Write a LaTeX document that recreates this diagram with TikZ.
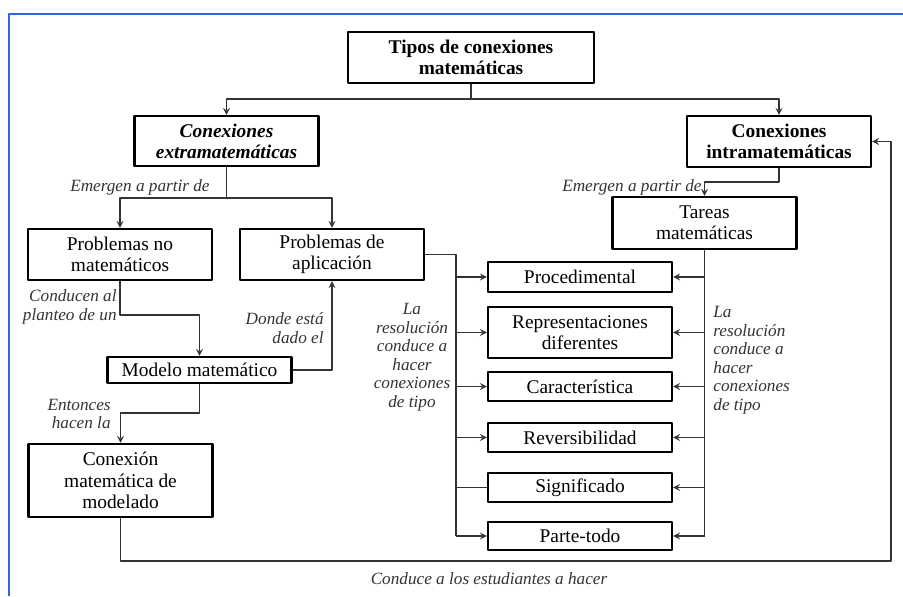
\documentclass[tikz,border=0pt]{standalone}
\usepackage{fontspec}
\setmainfont{Liberation Serif}
\definecolor{marco}{RGB}{43,104,222}
\begin{document}
\begin{tikzpicture}[x=0.5pt,y=-0.5pt,>=stealth, line join=round]
	\tikzset{caja/.style={draw, line width=1.1pt, align=center, inner sep=0pt, minimum width=92pt, font=\fontsize{9.7}{10.6}\selectfont},
		negr/.style={font=\fontsize{9.7}{10.6}\selectfont\bfseries},
		negrit/.style={font=\fontsize{9.7}{10.6}\selectfont\bfseries\itshape},
		etiq/.style={inner sep=0pt, text=black!80, font=\fontsize{8.6}{9.25}\selectfont\itshape},
		linea/.style={draw=black!80, line width=0.55pt},
		flecha/.style={linea, ->}}
	\useasboundingbox (0,0) rectangle (903,596);
	\draw[marco, line width=1.1pt] (9,596) -- (9,14) -- (903,14);
	% cajas
	\node[caja, negr, minimum width=123pt, minimum height=25.5pt] (tipos) at (471,57.5) {Tipos de conexiones\\matemáticas};
	\node[caja, negrit, minimum height=25pt] (extra) at (226.5,141) {Conexiones\\extramatemáticas};
	\node[caja, negr, minimum height=25.5pt] (intra) at (779,141.5) {Conexiones\\intramatemáticas};
	\node[caja, minimum height=25.5pt] (probno) at (120,254.5) {Problemas no\\matemáticos};
	\node[caja, minimum height=25.5pt] (probap) at (332,254.5) {Problemas de\\aplicación};
	\node[caja, minimum height=26pt] (tareas) at (704.5,223) {Tareas\\matemáticas};
	\node[caja, minimum height=13pt] (modelo) at (199.5,370) {Modelo matemático};
	\node[caja, minimum height=36.5pt, font=\fontsize{9.7}{10.9}\selectfont] (conex) at (120.5,480.5) {Conexión\\matemática de\\modelado};
	\node[caja, minimum height=15pt] (proc) at (580,277) {Procedimental};
	\node[caja, minimum height=25.5pt] (repr) at (580,332.5) {Representaciones\\diferentes};
	\node[caja, minimum height=14.5pt] (carac) at (580,386.5) {Característica};
	\node[caja, minimum height=14.5pt] (rever) at (580,437.5) {Reversibilidad};
	\node[caja, minimum height=14.5pt] (signif) at (580,487.5) {Significado};
	\node[caja, minimum height=14pt] (parte) at (580,536) {Parte-todo};
	% conectores
	\coordinate (t1) at (471,99);
	\draw[linea] (tipos.south) -- (t1);
	\draw[flecha] (t1) -| (extra.north);
	\draw[flecha] (t1) -| (intra.north);
	\coordinate (e1) at (226.5,198);
	\draw[linea] (extra.south) -- (e1);
	\draw[flecha] (e1) -| (probno.north);
	\draw[flecha] (e1) -| (probap.north);
	\coordinate (i1) at (779,182);
	\draw[flecha] (intra.south) -- (i1) -| (tareas.north);
	\draw[linea] (tareas.south) -- (tareas.south |- parte.east);
	\foreach \n in {proc,repr,carac,rever,signif,parte}
		\draw[flecha] (tareas.south |- \n.east) -- (\n.east);
	\coordinate (l0) at (456,254.5);
	\draw[linea] (probap.east) -- (l0) -- (l0 |- parte.west);
	\foreach \n in {proc,repr,carac,rever,parte}
		\draw[flecha] (l0 |- \n.west) -- (\n.west);
	\draw[linea] (l0 |- signif.west) -- (signif.west);
	\coordinate (p1) at (120,315);
	\draw[flecha] (probno.south) -- (p1) -| (modelo.north);
	\draw[flecha] (modelo.east) -| (probap.south);
	\coordinate (m1) at (199.5,413);
	\draw[flecha] (modelo.south) -- (m1) -| (conex.north);
	\coordinate (c1) at (120.5,561);
	\coordinate (c2) at (891,561);
	\draw[flecha] (conex.south) -- (c1) -- (c2) |- (intra.east);
	% etiquetas
	\node[etiq, anchor=east] (lemer1) at (210,187) {Emergen a partir de};
	\node[etiq, anchor=east] (lemer2) at (702,187) {Emergen a partir de};
	\node[etiq, anchor=east, align=right] (lcond) at (117,307) {Conducen al\\planteo de un};
	\node[etiq, anchor=east, align=right] (ldonde) at (324,328) {Donde está\\dado el};
	\node[etiq, anchor=east, align=right] (lenton) at (111,414) {Entonces\\hacen la};
	\node[etiq, align=center] (lresi) at (412,357) {La\\resolución\\conduce a\\hacer\\conexiones\\de tipo};
	\node[etiq, anchor=west, align=left] (lresd) at (713,360) {La\\resolución\\conduce a\\hacer\\conexiones\\de tipo};
	\node[etiq] (lfin) at (489,579) {Conduce a los estudiantes a hacer};
\end{tikzpicture}
\end{document}
